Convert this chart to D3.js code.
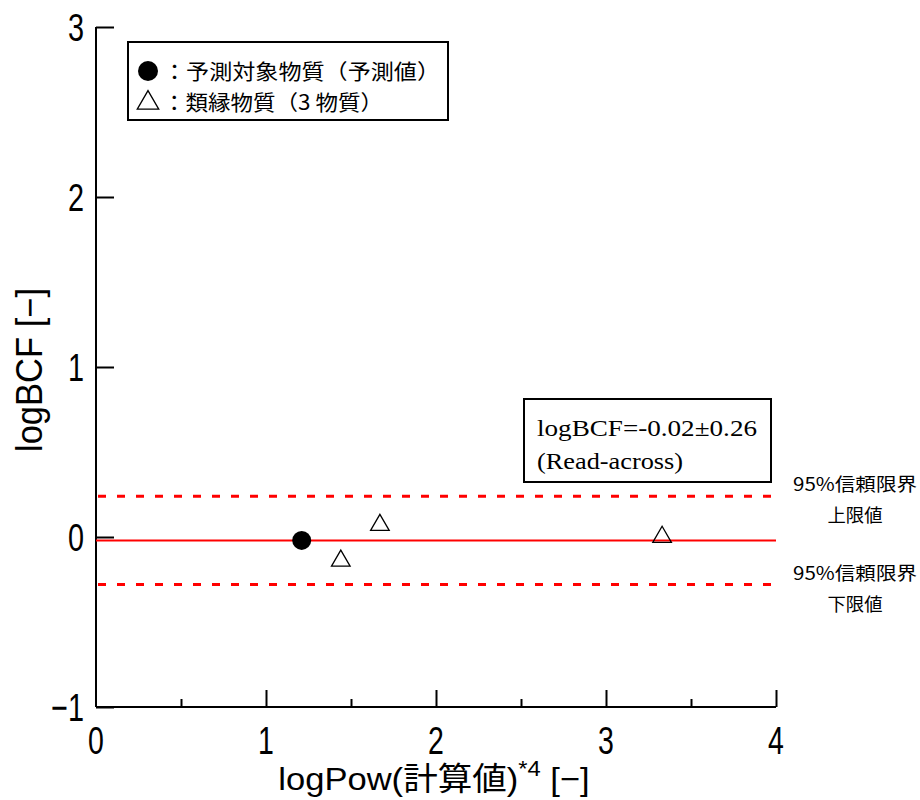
<!DOCTYPE html>
<html>
<head>
<meta charset="utf-8">
<script src="https://cdn.jsdelivr.net/npm/d3@7"></script>
<style>
  html, body { margin: 0; padding: 0; background: #fff; }
  svg { display: block; }
</style>
</head>
<body>
<svg id="chart" width="920" height="800"></svg>
<script>
// Target substance (predicted value)
const targetX = [1.21];
const targetY = [-0.02];
// Analogue substances (3)
const analogueX = [1.44, 1.67, 3.33];
const analogueY = [-0.14, 0.07, 0.00];
// Read-across estimate and 95% confidence half-width
const estimate = [-0.02];
const halfWidth = [0.26];
const xTicks = [0, 1, 2, 3, 4];
const xMinorTicks = [0.5, 1.5, 2.5, 3.5];
const yTicks = [-1, 0, 1, 2, 3];
const legendLabels = ["：予測対象物質（予測値）", "：類縁物質（3 物質）"];
const boxLabels = ["logBCF=-0.02±0.26", "(Read-across)"];
const limitLabels = [["95%信頼限界", "上限値"], ["95%信頼限界", "下限値"]];

const svg = d3.select("#chart");
const margin = { left: 96, right: 144, top: 27, bottom: 93 };
const W = 920, H = 800;

const x = d3.scaleLinear().domain([0, 4]).range([margin.left, W - margin.right]);
const y = d3.scaleLinear().domain([-1, 3]).range([H - margin.bottom, margin.top]);

const sans = "'Liberation Sans', Arial, 'Noto Sans CJK JP', sans-serif";
const serif = "'Liberation Serif', 'Noto Sans CJK JP', serif";
const cjk = "'Noto Sans CJK JP', sans-serif";

// Axes ticks (inward)
const xAxis = svg.append("g")
  .attr("transform", `translate(0,${y(-1)})`)
  .call(d3.axisTop(x).tickValues(xTicks.slice(1)).tickSize(17).tickFormat(""));
xAxis.select(".domain").remove();
xAxis.selectAll("line").attr("stroke", "#000").attr("stroke-width", 2);

const xMinor = svg.append("g")
  .attr("transform", `translate(0,${y(-1)})`)
  .call(d3.axisTop(x).tickValues(xMinorTicks).tickSize(8).tickFormat(""));
xMinor.select(".domain").remove();
xMinor.selectAll("line").attr("stroke", "#000").attr("stroke-width", 2);

const yAxis = svg.append("g")
  .attr("transform", `translate(${x(0)},0)`)
  .call(d3.axisRight(y).tickValues(yTicks).tickSize(18).tickFormat(""));
yAxis.select(".domain").remove();
yAxis.selectAll("line").attr("stroke", "#000").attr("stroke-width", 2);

// Axis lines
svg.append("line").attr("x1", x(0)).attr("x2", x(4)).attr("y1", y(-1)).attr("y2", y(-1))
  .attr("stroke", "#000").attr("stroke-width", 2);
svg.append("line").attr("x1", x(0)).attr("x2", x(0)).attr("y1", y(3)).attr("y2", y(-1))
  .attr("stroke", "#000").attr("stroke-width", 2);

// Tick labels in a condensed face
svg.append("g").selectAll("text").data(xTicks).join("text")
  .attr("transform", d => `translate(${x(d)},${y(-1) + 47}) scale(0.75,1)`)
  .attr("text-anchor", "middle")
  .style("font-family", sans).style("font-size", "38px")
  .text(d => d);

svg.append("g").selectAll("text").data(yTicks).join("text")
  .attr("transform", d => `translate(${x(0) - 12},${y(d) + 14}) scale(0.74,1)`)
  .attr("text-anchor", "end")
  .style("font-family", sans).style("font-size", "39px")
  .text(d => d < 0 ? "−" + Math.abs(d) : d);

// Axis titles
const xt = svg.append("text")
  .attr("transform", "translate(434,790) scale(1.08,1)")
  .attr("text-anchor", "middle")
  .style("font-family", sans).style("font-size", "32px");
xt.append("tspan").text("logPow(計算値)");
xt.append("tspan").attr("dy", -14).style("font-size", "22px").text("*4");
xt.append("tspan").attr("dy", 14).text(" [−]");

svg.append("text")
  .attr("transform", `translate(42,370) rotate(-90)`)
  .attr("text-anchor", "middle")
  .attr("textLength", 164).attr("lengthAdjust", "spacingAndGlyphs")
  .style("font-family", sans).style("font-size", "36px")
  .text("logBCF [−]");

// Estimate and confidence lines
const est = estimate[0], hw = halfWidth[0];
svg.append("line")
  .attr("x1", x(0)).attr("x2", x(4)).attr("y1", y(est)).attr("y2", y(est))
  .attr("stroke", "#ff0000").attr("stroke-width", 2);
[est + hw, est - hw].forEach(v => {
  svg.append("line")
    .attr("x1", x(0) + 2).attr("x2", x(4)).attr("y1", y(v)).attr("y2", y(v))
    .attr("stroke", "#ff0000").attr("stroke-width", 3)
    .attr("stroke-dasharray", "8,11");
});

// Target substance
svg.append("g").selectAll("circle").data(targetX).join("circle")
  .attr("cx", d => x(d)).attr("cy", (d, i) => y(targetY[i]))
  .attr("r", 9.5).attr("fill", "#000");

// Analogue substances
const tri = d3.symbol().type(d3.symbolTriangle).size(150);
svg.append("g").selectAll("path").data(analogueX).join("path")
  .attr("transform", (d, i) => `translate(${x(d)},${y(analogueY[i])})`)
  .attr("d", tri)
  .attr("fill", "none").attr("stroke", "#000").attr("stroke-width", 1.3);

// Legend box
svg.append("rect").attr("x", 128).attr("y", 42).attr("width", 320).attr("height", 78)
  .attr("fill", "#fff").attr("stroke", "#000").attr("stroke-width", 2);
svg.append("circle").attr("cx", 148).attr("cy", 71).attr("r", 10).attr("fill", "#000");
svg.append("path")
  .attr("transform", "translate(148,103)")
  .attr("d", d3.symbol().type(d3.symbolTriangle).size(200))
  .attr("fill", "none").attr("stroke", "#000").attr("stroke-width", 1.3);
const legendLengths = [277, 220];
svg.append("g").selectAll("text").data(legendLabels).join("text")
  .attr("x", 163).attr("y", (d, i) => 79 + i * 31)
  .attr("textLength", (d, i) => legendLengths[i]).attr("lengthAdjust", "spacingAndGlyphs")
  .style("font-family", cjk).style("font-size", "21px")
  .text(d => d);

// Read-across result box
svg.append("rect").attr("x", 524).attr("y", 399).attr("width", 247).attr("height", 83)
  .attr("fill", "#fff").attr("stroke", "#000").attr("stroke-width", 2);
const boxLengths = [220, 146];
svg.append("g").selectAll("text").data(boxLabels).join("text")
  .attr("x", 537).attr("y", (d, i) => 436 + i * 33)
  .attr("textLength", (d, i) => boxLengths[i]).attr("lengthAdjust", "spacingAndGlyphs")
  .style("font-family", serif).style("font-size", "24px")
  .text(d => d);

// Confidence limit labels
const limitY = [est + hw, est - hw];
limitLabels.forEach((lines, k) => {
  svg.append("g").selectAll("text").data(lines).join("text")
    .attr("x", 855).attr("y", (d, i) => y(limitY[k]) - 5 + i * 31)
    .attr("text-anchor", "middle")
    .attr("textLength", (d, i) => i === 0 ? 124 : 55).attr("lengthAdjust", "spacingAndGlyphs")
    .style("font-family", cjk).style("font-size", "18px")
    .text(d => d);
});
</script>
</body>
</html>
